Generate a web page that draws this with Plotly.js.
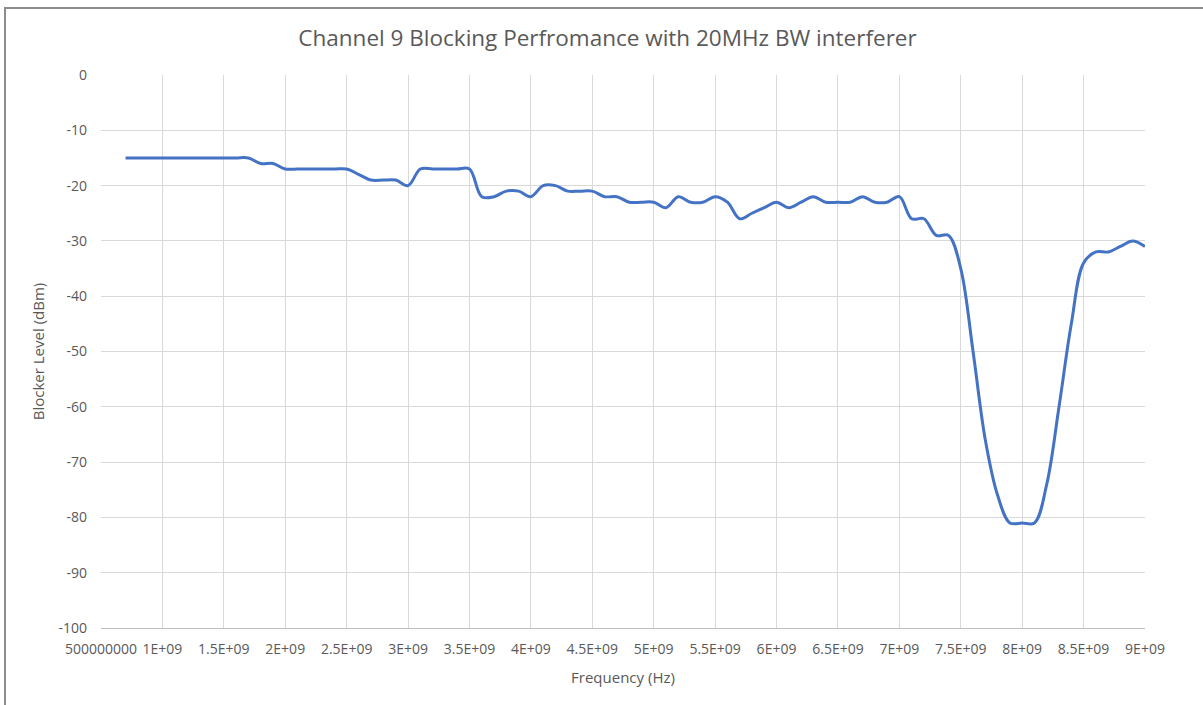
<!DOCTYPE html>
<html>
<head>
<meta charset="utf-8">
<script src="https://cdn.plot.ly/plotly-3.0.1.min.js"></script>
<style>
  html, body { margin: 0; padding: 0; background: #ffffff; }
  #wrap { position: relative; width: 1203px; height: 705px; }
  #chart { width: 1203px; height: 705px; }
  .bt { position: absolute; left: 5px; top: 7px; width: 1198px; height: 2px; background: #8c8c8c; }
  .bl { position: absolute; left: 4px; top: 7px; width: 2px; height: 698px; background: #8c8c8c; }
</style>
</head>
<body>
<div id="wrap">
  <div id="chart"></div>
  <div class="bt"></div>
  <div class="bl"></div>
</div>
<script>
// Frequency (Hz)
const frequency = [
  0.7e9, 0.8e9, 0.9e9, 1.0e9, 1.1e9, 1.2e9, 1.3e9, 1.4e9, 1.5e9, 1.6e9,
  1.7e9, 1.8e9, 1.9e9, 2.0e9, 2.1e9, 2.2e9, 2.3e9, 2.4e9, 2.5e9, 2.6e9,
  2.7e9, 2.8e9, 2.9e9, 3.0e9, 3.1e9, 3.2e9, 3.3e9, 3.4e9, 3.5e9, 3.6e9,
  3.7e9, 3.8e9, 3.9e9, 4.0e9, 4.1e9, 4.2e9, 4.3e9, 4.4e9, 4.5e9, 4.6e9,
  4.7e9, 4.8e9, 4.9e9, 5.0e9, 5.1e9, 5.2e9, 5.3e9, 5.4e9, 5.5e9, 5.6e9,
  5.7e9, 5.8e9, 5.9e9, 6.0e9, 6.1e9, 6.2e9, 6.3e9, 6.4e9, 6.5e9, 6.6e9,
  6.7e9, 6.8e9, 6.9e9, 7.0e9, 7.1e9, 7.2e9, 7.3e9, 7.4e9, 7.5e9, 7.6e9,
  7.7e9, 7.8e9, 7.9e9, 8.0e9, 8.1e9, 8.2e9, 8.3e9, 8.4e9, 8.5e9, 8.6e9,
  8.7e9, 8.8e9, 8.9e9, 9.0e9
];
// Blocker level (dBm)
const blockerLevel = [
  -15, -15, -15, -15, -15, -15, -15, -15, -15, -15,
  -15, -16, -16, -17, -17, -17, -17, -17, -17, -18,
  -19, -19, -19, -20, -17, -17, -17, -17, -17, -22,
  -22, -21, -21, -22, -20, -20, -21, -21, -21, -22,
  -22, -23, -23, -23, -24, -22, -23, -23, -22, -23,
  -26, -25, -24, -23, -24, -23, -22, -23, -23, -23,
  -22, -23, -23, -22, -26, -26, -29, -29, -35, -50,
  -66, -76, -81, -81, -81, -74, -60, -45, -34, -32,
  -32, -31, -30, -31
];
// Axis ticks
const xTickVals = [0.5e9, 1e9, 1.5e9, 2e9, 2.5e9, 3e9, 3.5e9, 4e9, 4.5e9, 5e9,
                   5.5e9, 6e9, 6.5e9, 7e9, 7.5e9, 8e9, 8.5e9, 9e9];
const xTickText = ["500000000", "1E+09", "1.5E+09", "2E+09", "2.5E+09", "3E+09",
                   "3.5E+09", "4E+09", "4.5E+09", "5E+09", "5.5E+09", "6E+09",
                   "6.5E+09", "7E+09", "7.5E+09", "8E+09", "8.5E+09", "9E+09"];
const yTickVals = [0, -10, -20, -30, -40, -50, -60, -70, -80, -90, -100];
const yTickText = ["0", "-10", "-20", "-30", "-40", "-50", "-60", "-70", "-80", "-90", "-100"];

const FONT = "Open Sans, Noto Sans, sans-serif";
const GREY = "#595959";

const trace = {
  x: frequency,
  y: blockerLevel,
  type: "scatter",
  mode: "lines",
  line: { color: "#4472C4", width: 3, shape: "spline", smoothing: 1 },
  hoverinfo: "x+y"
};

const layout = {
  width: 1203,
  height: 705,
  paper_bgcolor: "#ffffff",
  plot_bgcolor: "#ffffff",
  margin: { l: 101, r: 58, t: 75, b: 77 },
  showlegend: false,
  title: {
    text: "Channel 9 Blocking Perfromance with 20MHz BW interferer",
    font: { family: FONT, size: 22.5, color: GREY },
    x: 0.505, xanchor: "center",
    y: 0.946, yanchor: "middle"
  },
  xaxis: {
    range: [0.5e9, 9e9],
    tickmode: "array",
    tickvals: xTickVals,
    ticktext: xTickText,
    showgrid: true,
    gridcolor: "#d9d9d9",
    gridwidth: 1,
    showline: true,
    linecolor: "#bfbfbf",
    linewidth: 1,
    zeroline: false,
    ticks: "",
    ticklabelstandoff: 8,
    tickangle: 0,
    tickfont: { family: FONT, size: 14, color: GREY },
    title: {
      text: "Frequency (Hz)",
      font: { family: FONT, size: 15, color: GREY },
      standoff: 15
    },
    fixedrange: true
  },
  yaxis: {
    range: [-100, 0],
    tickmode: "array",
    tickvals: yTickVals,
    ticktext: yTickText,
    showgrid: true,
    gridcolor: "#d9d9d9",
    gridwidth: 1,
    showline: false,
    zeroline: false,
    ticks: "",
    ticklabelstandoff: 13,
    tickfont: { family: FONT, size: 14, color: GREY },
    title: {
      text: "Blocker Level (dBm)",
      font: { family: FONT, size: 15, color: GREY },
      standoff: 10
    },
    fixedrange: true
  }
};

Plotly.newPlot("chart", [trace], layout, { displayModeBar: false });
</script>
</body>
</html>
